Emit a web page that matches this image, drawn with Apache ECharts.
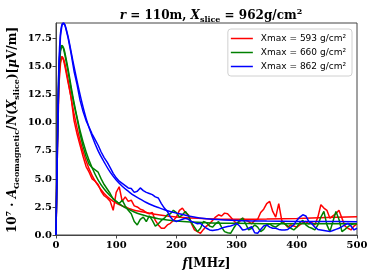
<!DOCTYPE html>
<html><head><meta charset="utf-8">
<script src="https://cdn.jsdelivr.net/npm/echarts@6/dist/echarts.min.js"></script>
<style>html,body{margin:0;padding:0;background:#fff}#c{width:374px;height:275px}</style>
</head><body><div id="c"></div>
<script>
// Legend labels
const seriesNames = ['Xmax = 593 g/cm²', 'Xmax = 660 g/cm²', 'Xmax = 862 g/cm²'];
const seriesColors = ['#ff0000', '#008000', '#0000ff'];
const xTicks = [0, 100, 200, 300, 400, 500];
const yTicks = [0, 2.5, 5, 7.5, 10, 12.5, 15, 17.5];

// Measured data [f (MHz), amplitude]
const red593 = [[0,0],[2.5,8],[5,13.5],[7.5,15.3],[10,15.9],[12.5,15.6],[15,15.0],[20,13.6],[25,12.3],[30,10.2],[35,9.0],[40,8.0],[45,7.0],[50,6.1],[55,5.6],[60,5.0],[65,4.8],[70,4.5],[75,3.9],[80,3.5],[85,3.3],[90,3.0],[95,2.2],[100,3.8],[105,4.3],[110,3.0],[115,3.4],[120,3.0],[125,3.1],[130,2.6],[135,2.5],[140,2.3],[145,2.2],[150,2.0],[155,1.9],[160,2.0],[165,1.3],[170,0.9],[175,0.6],[180,0.6],[185,0.9],[190,1.04],[195,1.3],[200,1.6],[205,2.2],[210,2.4],[215,2.0],[220,1.8],[225,1.0],[230,0.45],[235,0.3],[240,0.15],[245,0.5],[250,0.8],[255,1.0],[260,1.3],[265,1.6],[270,1.8],[275,1.7],[280,1.95],[285,1.9],[290,1.6],[295,1.3],[300,1.0],[305,1.2],[310,1.5],[315,1.3],[320,1.2],[325,1.0],[330,1.3],[335,1.4],[340,2.0],[345,2.3],[350,2.8],[355,3.0],[360,2.1],[365,1.6],[370,2.8],[375,1.3],[380,1.0],[385,0.7],[390,0.9],[395,0.8],[400,0.7],[405,0.9],[410,1.1],[415,1.2],[420,1.0],[425,1.1],[430,0.9],[435,1.6],[440,2.7],[445,2.4],[450,2.2],[455,1.5],[460,1.7],[465,1.9],[470,2.2],[475,1.5],[480,0.8],[485,0.6],[490,0.45],[495,0.8],[500,1.0]];
const green660 = [[0,0],[2.5,8.5],[5,14.5],[7.5,16.4],[10,16.9],[12.5,16.6],[15,16.0],[20,14.6],[25,13.0],[30,11.6],[35,10.4],[40,9.0],[45,7.9],[50,7.0],[55,6.3],[60,6.0],[65,5.8],[70,5.6],[75,5.0],[80,4.5],[85,4.1],[90,3.7],[95,3.2],[100,3.0],[105,2.8],[110,3.1],[115,2.6],[120,2.2],[125,1.9],[130,1.2],[135,0.9],[140,1.4],[145,1.6],[150,1.2],[155,1.7],[160,1.3],[165,0.8],[170,1.0],[175,1.3],[180,1.5],[185,1.8],[190,1.9],[195,2.2],[200,2.0],[205,1.6],[210,1.8],[215,2.1],[220,1.7],[225,1.1],[230,0.7],[235,0.3],[240,0.6],[245,1.2],[250,1.1],[255,0.8],[260,0.7],[265,1.0],[270,1.2],[275,0.7],[280,0.3],[285,0.2],[290,0.15],[295,0.6],[300,1.0],[305,1.3],[310,1.5],[315,1.0],[320,0.45],[325,0.6],[330,0.9],[335,0.7],[340,0.3],[345,0.5],[350,0.9],[355,1.0],[360,0.8],[365,0.7],[370,0.9],[375,1.1],[380,1.0],[385,0.8],[390,0.6],[395,0.45],[400,0.7],[405,1.1],[410,1.3],[415,0.9],[420,0.7],[425,0.6],[430,0.45],[435,0.9],[440,1.6],[445,2.1],[450,0.9],[455,0.3],[460,1.2],[465,2.1],[470,1.4],[475,0.3],[480,0.5],[485,0.74],[490,0.9],[495,1.0],[500,1.0]];
const blue862 = [[0,0],[2.5,8],[5,15],[7.5,17.8],[10,18.7],[12.5,18.9],[15,18.7],[20,17.6],[25,16.2],[30,14.6],[35,13.4],[40,12.0],[45,11.0],[50,10.2],[55,9.6],[60,9.0],[65,8.5],[70,8.0],[75,7.4],[80,6.9],[85,6.5],[90,6.0],[95,5.5],[100,5.1],[105,4.8],[110,4.6],[115,4.4],[120,4.2],[125,4.15],[130,3.8],[135,3.9],[140,4.2],[145,3.96],[150,3.8],[155,3.7],[160,3.6],[165,3.4],[170,3.3],[175,2.8],[180,2.4],[185,2.1],[190,1.6],[195,1.3],[200,1.2],[205,1.3],[210,1.4],[215,1.5],[220,1.4],[225,1.2],[230,1.1],[235,1.0],[240,1.04],[245,0.8],[250,0.6],[255,0.45],[260,0.4],[265,0.45],[270,0.5],[275,0.6],[280,0.7],[285,0.75],[290,0.8],[295,0.9],[300,1.04],[305,0.8],[310,0.45],[315,0.5],[320,0.6],[325,0.74],[330,0.2],[335,0.15],[340,0.5],[345,0.8],[350,0.9],[355,0.7],[360,0.6],[365,0.6],[370,0.5],[375,0.45],[380,0.45],[385,0.5],[390,0.7],[395,0.9],[400,1.3],[405,1.6],[410,1.8],[415,1.7],[420,1.2],[425,1.0],[430,0.7],[435,0.5],[440,0.45],[445,0.4],[450,0.35],[455,0.3],[460,0.4],[465,0.5],[470,0.6],[475,0.74],[480,0.9],[485,1.04],[490,0.8],[495,0.45],[500,0.6]];

// Fitted curves [f (MHz), amplitude]
const redFit = [[0,0],[2.5,9],[5,14],[7.5,15.6],[10,15.9],[12.5,15.7],[15,15.2],[20,13.8],[30,10.8],[40,8.4],[50,6.6],[60,5.3],[70,4.4],[80,3.7],[90,3.2],[100,2.85],[110,2.6],[120,2.4],[130,2.2],[140,2.1],[150,2.0],[170,1.8],[200,1.6],[250,1.45],[300,1.4],[350,1.42],[400,1.47],[450,1.55],[500,1.63]];
const greenFit = [[0,0],[2.5,9.5],[5,15],[7.5,16.6],[10,16.9],[12.5,16.7],[15,16.2],[20,14.8],[30,11.8],[40,9.3],[50,7.4],[60,6.0],[70,4.9],[80,4.1],[90,3.5],[100,3.0],[110,2.6],[120,2.3],[130,2.05],[140,1.85],[150,1.7],[170,1.45],[200,1.25],[250,1.1],[300,1.05],[400,1.0],[500,1.0]];
const blueFit = [[0,0],[2.5,9],[5,15.5],[7.5,18],[10,18.8],[12.5,18.9],[15,18.7],[20,17.7],[30,15.0],[40,12.5],[50,10.4],[60,8.8],[70,7.5],[80,6.5],[90,5.6],[100,4.9],[110,4.35],[120,3.9],[130,3.5],[140,3.2],[150,2.9],[160,2.65],[170,2.45],[180,2.25],[200,1.95],[220,1.7],[250,1.45],[300,1.3],[350,1.24],[400,1.21],[450,1.2],[500,1.19]];

const dataSets = [red593, green660, blue862];
const fitSets = [redFit, greenFit, blueFit];

const serif = 'DejaVu Serif';
const chart = echarts.init(document.getElementById('c'), null, {renderer: 'canvas'});

const series = [];
for (let i = 0; i < 3; i++) {
  series.push({name: seriesNames[i], type: 'line', data: dataSets[i], showSymbol: false, symbol: 'none',
    lineStyle: {color: seriesColors[i], width: 1.5}, itemStyle: {color: seriesColors[i]}, z: 2 + i * 2});
  series.push({name: 'fit' + i, type: 'line', data: fitSets[i], showSymbol: false, symbol: 'none', smooth: 0.4,
    lineStyle: {color: seriesColors[i], width: 1.5}, itemStyle: {color: seriesColors[i]}, z: 3 + i * 2});
}

const richText = {
  i: {fontFamily: serif, fontStyle: 'italic', fontWeight: 'bold', fontSize: 12, lineHeight: 16, fill: '#000', color: '#000', verticalAlign: 'middle'},
  b: {fontFamily: serif, fontWeight: 'bold', fontSize: 12, lineHeight: 16, fill: '#000', color: '#000', verticalAlign: 'middle'},
  sub: {fontFamily: serif, fontWeight: 'bold', fontSize: 8, lineHeight: 8, fill: '#000', color: '#000', verticalAlign: 'bottom'},
  sup: {fontFamily: serif, fontWeight: 'bold', fontSize: 8, lineHeight: 8, fill: '#000', color: '#000', verticalAlign: 'top'}
};

chart.setOption({
  animation: false,
  title: {
    text: '{i|r}{b| = 110m, }{i|X}{sub|slice}{b| = 962g/cm}{sup|2}',
    left: 206, top: 3, textAlign: 'center',
    textStyle: {rich: richText}
  },
  graphic: [{
    type: 'text', x: 13, y: 130, rotation: Math.PI / 2, z: 100,
    style: {
      text: '{b|10}{sup|7}{b| · }{i|A}{sub|Geomagnetic}{b|/}{i|N}{b|(}{i|X}{sub|slice}{b|)[}{i|μ}{b|V/m]}',
      rich: richText, align: 'center', verticalAlign: 'middle', x: 0, y: 0
    }
  }],
  legend: {
    data: seriesNames, orient: 'vertical', right: 22, top: 29,
    icon: 'rect', itemWidth: 22, itemHeight: 1.5, itemGap: 5,
    padding: [5, 6, 5, 3],
    borderColor: '#d0d0d0', borderWidth: 1, borderRadius: 3,
    backgroundColor: 'rgba(255,255,255,0.8)',
    textStyle: {fontFamily: 'DejaVu Sans', fontSize: 9, color: '#000', padding: [0, 0, 0, 3]}
  },
  grid: {left: 56, right: 17, top: 23, bottom: 40, containLabel: false, outerBoundsMode: 'none',
    show: true, borderColor: '#444', borderWidth: 1, backgroundColor: 'transparent'},
  xAxis: {
    type: 'value', min: xTicks[0], max: xTicks[xTicks.length - 1], interval: 100,
    name: '{i|f}{b|[MHz]}', nameLocation: 'middle', nameGap: 21, nameMoveOverlap: false,
    nameTextStyle: {rich: richText},
    axisLine: {show: true, lineStyle: {color: '#444', width: 1}},
    axisTick: {show: true, length: 3.5, lineStyle: {color: '#444'}},
    axisLabel: {fontFamily: serif, fontWeight: 'bold', fontSize: 10, color: '#000', margin: 5},
    splitLine: {show: false}
  },
  yAxis: {
    type: 'value', min: yTicks[0], max: 18.9, interval: 2.5,
    axisLine: {show: true, lineStyle: {color: '#444', width: 1}},
    axisTick: {show: true, length: 3.5, lineStyle: {color: '#444'}},
    axisLabel: {fontFamily: serif, fontWeight: 'bold', fontSize: 10, color: '#000', margin: 4,
      showMaxLabel: false,
      formatter: function (v) { return yTicks.indexOf(v) >= 0 ? v.toFixed(1) : ''; }},
    splitLine: {show: false}
  },
  series: series
});
</script>
</body></html>
